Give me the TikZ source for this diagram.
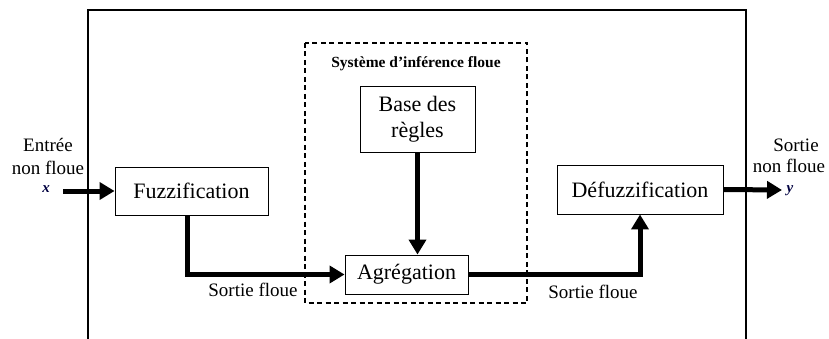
\documentclass[tikz,border=0pt]{standalone}
\usepackage{fontspec}
\setmainfont{Liberation Serif}
\usetikzlibrary{arrows.meta}
\tikzset{
  block/.style={draw, line width=0.9pt, fill=white, inner sep=0pt,
    font=\fontsize{22}{24}\selectfont},
  flow/.style={line width=5pt, -{Triangle[length=15pt,width=17pt]}},
  lbl/.style={inner sep=0pt, align=center, font=\fontsize{19}{21}\selectfont},
  var/.style={inner sep=0pt, font=\fontsize{15}{15}\selectfont\bfseries\itshape, text=black!75!blue},
}
\begin{document}
\begin{tikzpicture}[x=1pt,y=-1pt]
  \useasboundingbox (0,0) rectangle (829,339);
  % open outer frame
  \draw[line width=1.8pt] (88,339) -- (88,10) -- (746,10) -- (746,339);
  % inference system frame
  \draw[dashed, line width=1.1pt, dash pattern=on 5pt off 3.5pt] (305,43) rectangle (527,303);
  \node[inner sep=0pt, font=\fontsize{15.5}{18}\selectfont\bfseries] (title) at (416,64) {Système d’inférence floue};
  % blocks
  \node[block, minimum width=153pt, minimum height=48pt] (fuzz) at (191.5,191) {Fuzzification};
  \node[block, minimum width=166pt, minimum height=49pt] (defuzz) at (640,189.5) {Défuzzification};
  \node[block, minimum width=115pt, minimum height=66pt, align=center,
        font=\fontsize{22}{26}\selectfont] (base) at (417.5,119) {Base des\\règles};
  \node[block, minimum width=123pt, minimum height=39pt] (agg) at (406.5,274.5) {Agrégation};
  % inputs and outputs
  \coordinate (xin) at (63,191);
  \coordinate (yout) at (782,190);
  \node[lbl] (in1) at (48,145) {Entrée};
  \node[lbl] (in2) at (48,168) {non floue};
  \node[var] (xsym) at (46,189) {x};
  \node[lbl] (out1) at (796,145) {Sortie};
  \node[lbl] (out2) at (789,166) {non floue};
  \node[var] (ysym) at (790,191) {y};
  % connectors
  \draw[flow] (xin) -- (fuzz.west);
  \draw[flow] (defuzz.east) -- (yout);
  \draw[flow] ([xshift=-4.5pt]fuzz.south) |- (agg.west);
  \draw[flow] (base.south) -- (base.south |- agg.north);
  \draw[flow] (agg.east) -| (defuzz.south);
  % edge labels
  \node[lbl] (l1) at (253,290) {Sortie floue};
  \node[lbl] (l2) at (593,292) {Sortie floue};
\end{tikzpicture}
\end{document}
